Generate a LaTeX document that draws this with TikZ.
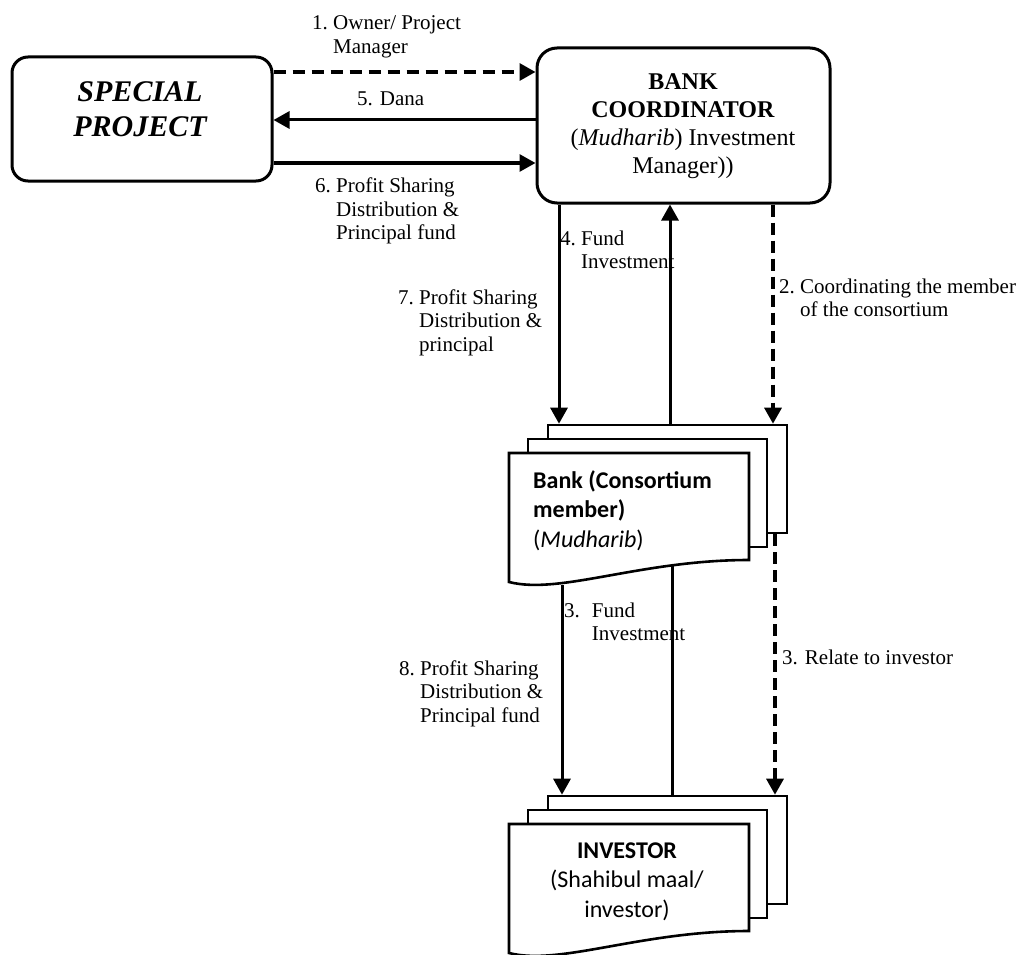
\documentclass[tikz,border=0pt]{standalone}
\usepackage{fontspec}
\setmainfont{Liberation Serif}
\newfontfamily\calibri{Carlito}
\usetikzlibrary{arrows.meta}
\newcommand\lab[2]{\begin{tabular}[t]{@{}l@{~}l@{}}#1&#2\end{tabular}}
\newcommand\labw[2]{\begin{tabular}[t]{@{}l@{\hspace{12pt}}l@{}}#1&#2\end{tabular}}
\begin{document}
\begin{tikzpicture}[x=1pt,y=-1pt,
  box/.style={draw, line width=3pt, inner sep=0pt},
  flow/.style={line width=3pt, -{Triangle[length=16pt,width=17pt]}},
  plainline/.style={line width=3pt},
  hdash/.style={line width=3.3pt, dash pattern=on 12pt off 7pt},
  vdash/.style={line width=3.3pt, dash pattern=on 12pt off 6pt},
  lbl/.style={anchor=base west, inner sep=0pt, font=\fontsize{21}{23.5}\selectfont},
  docback/.style={draw, fill=white, line width=2.6pt, inner sep=0pt, minimum width=239pt, minimum height=108pt},
  docfront/.style={draw, fill=white, line width=2.6pt, line join=miter},
  doctext/.style={inner sep=0pt, font=\calibri\fontsize{24}{29.5}\selectfont}
]
\useasboundingbox (0,0) rectangle (1020,955);

% main boxes
\node[box, rounded corners=16pt, minimum width=260pt, minimum height=124pt] (sp) at (142,119) {};
\node[anchor=base, inner sep=0pt, font=\fontsize{30}{35}\selectfont\bfseries\itshape] (spt) at (140,102)
  {\begin{tabular}[t]{@{}c@{}}SPECIAL\\PROJECT\end{tabular}};
\node[box, rounded corners=20pt, minimum width=293pt, minimum height=155pt] (bc) at (683.5,125.5) {};
\node[anchor=base, inner sep=0pt, font=\fontsize{24}{28}\selectfont] (bct) at (683,90)
  {\begin{tabular}[t]{@{}c@{}}\textbf{BANK}\\\textbf{COORDINATOR}\\(\textit{Mudharib}) Investment\\Manager))\end{tabular}};

% bank (consortium member) documents
\node[docback] (bkback) at (667.5,479) {};
\node[docback] (bkmid) at (647.5,493) {};
\draw[docfront] (509,453) -- (749,453) -- (749,560) .. controls (640,560) and (560,595) .. (509,582) -- cycle;
\coordinate (bkwL) at (562,585);
\coordinate (bkwM) at (672,566);
\node[doctext, anchor=base west] (bk) at (533,488)
  {\begin{tabular}[t]{@{}l@{}}\textbf{Bank (Consortium}\\\textbf{member)}\\(\textit{Mudharib})\end{tabular}};

% investor documents
\node[docback] (ivback) at (667.5,850) {};
\node[docback] (ivmid) at (647.5,864) {};
\draw[docfront] (509,824) -- (749,824) -- (749,931) .. controls (640,931) and (560,966) .. (509,953) -- cycle;
\node[doctext, anchor=base] (iv) at (627,858)
  {\begin{tabular}[t]{@{}c@{}}\textbf{INVESTOR}\\(Shahibul maal/\\investor)\end{tabular}};

% column / row helpers
\coordinate (r1) at (0,72);
\coordinate (r5) at (0,120);
\coordinate (r6) at (0,163);
\coordinate (cL) at (559,0);
\coordinate (cM) at (670,0);
\coordinate (cR) at (773,0);
\coordinate (dL) at (562,0);
\coordinate (dM) at (672,0);
\coordinate (dR) at (775,0);

% horizontal connectors
\draw[flow, hdash] (sp.east |- r1) -- (bc.west |- r1);
\draw[flow] (bc.west |- r5) -- (sp.east |- r5);
\draw[flow] (sp.east |- r6) -- (bc.west |- r6);

% upper vertical connectors
\draw[flow] (bc.south -| cL) -- (bkback.north -| cL);
\draw[flow] (bkback.north -| cM) -- (bc.south -| cM);
\draw[flow, vdash] (bc.south -| cR) -- (bkback.north -| cR);

% lower vertical connectors
\draw[flow] (bkwL) -- (ivback.north -| dL);
\draw[plainline] (ivback.north -| dM) -- (bkwM);
\draw[flow, vdash] (bkback.south -| dR) -- (ivback.north -| dR);

% labels
\node[lbl] (l1) at (312,30) {\lab{1.}{Owner/ Project\\&Manager}};
\node[lbl] (l5) at (357,106) {5. Dana};
\node[lbl] (l6) at (315,193) {\lab{6.}{Profit Sharing\\&Distribution \&\\&Principal fund}};
\node[lbl] (l4) at (560,245) {\lab{4.}{Fund\\&Investment}};
\node[lbl] (l7) at (398,304) {\lab{7.}{Profit Sharing\\&Distribution \&\\&principal}};
\node[lbl] (l2) at (779,293) {\lab{2.}{Coordinating the member\\&of the consortium}};
\node[lbl] (l3a) at (564,617) {\labw{3.}{Fund\\&Investment}};
\node[lbl] (l8) at (399,675) {\lab{8.}{Profit Sharing\\&Distribution \&\\&Principal fund}};
\node[lbl] (l3b) at (782,664) {3. Relate to investor};
\end{tikzpicture}
\end{document}
